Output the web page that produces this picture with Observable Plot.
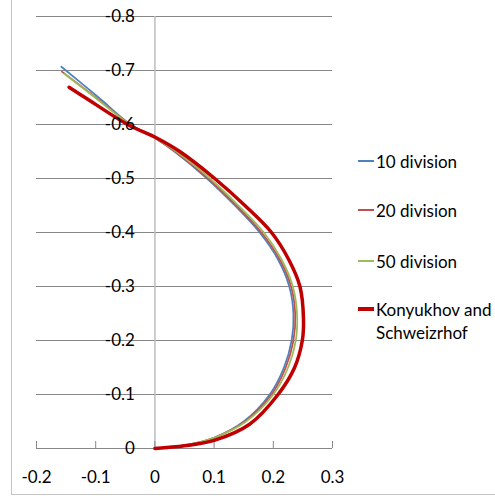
<!DOCTYPE html>
<html><head><meta charset="utf-8">
<script src="https://cdn.jsdelivr.net/npm/d3@7"></script>
<script src="https://cdn.jsdelivr.net/npm/@observablehq/plot@0.6"></script>
<style>
html,body{margin:0;padding:0;background:#fff;width:495px;height:498px;overflow:hidden;}
#wrap{position:relative;width:495px;height:498px;font-family:Lato,"Liberation Sans",sans-serif;color:#000;}
#wrap svg{position:absolute;left:0;top:0;background:transparent;}
#frame{position:absolute;left:11px;top:-5px;width:600px;height:500px;border:1px solid #c4c4c4;box-sizing:border-box;pointer-events:none;}
.lg{position:absolute;left:376px;font-size:17px;line-height:23px;white-space:nowrap;}
.sw{position:absolute;left:358px;width:16px;}
</style>
</head><body>
<div id="wrap"><div id="frame"></div></div>
<script>
// ---- data ----
const seriesNames = ["10 division", "20 division", "50 division", "Konyukhov and Schweizrhof"];
const seriesColors = ["#4F81BD", "#C0504D", "#9BBB59", "#C00000"];

const x10 = [0, 0.05, 0.1, 0.15, 0.194, 0.218, 0.231, 0.234, 0.227, 0.208, 0.177, 0.135, 0.088, 0.033, 0.0, -0.041, -0.095, -0.158];
const y10 = [0, -0.006, -0.02, -0.05, -0.1, -0.15, -0.2, -0.25, -0.3, -0.35, -0.4, -0.45, -0.5, -0.55, -0.575, -0.6, -0.65, -0.707];

const x20 = [0, 0.05, 0.1, 0.152, 0.197, 0.221, 0.234, 0.237, 0.230, 0.211, 0.180, 0.138, 0.090, 0.034, 0.0, -0.041, -0.1, -0.157];
const y20 = [0, -0.006, -0.02, -0.05, -0.1, -0.15, -0.2, -0.25, -0.3, -0.35, -0.4, -0.45, -0.5, -0.55, -0.575, -0.6, -0.65, -0.698];

const x50 = [0, 0.05, 0.1, 0.154, 0.2, 0.225, 0.238, 0.240, 0.233, 0.214, 0.184, 0.141, 0.093, 0.036, 0.0, -0.042, -0.101, -0.153];
const y50 = [0, -0.006, -0.02, -0.05, -0.1, -0.15, -0.2, -0.25, -0.3, -0.35, -0.4, -0.45, -0.5, -0.55, -0.575, -0.6, -0.65, -0.694];

const xKS = [0, 0.05, 0.1, 0.16, 0.208, 0.236, 0.249, 0.251, 0.245, 0.226, 0.197, 0.152, 0.101, 0.042, 0.003, -0.046, -0.118, -0.145];
const yKS = [0, -0.005, -0.015, -0.045, -0.1, -0.15, -0.2, -0.24, -0.3, -0.35, -0.4, -0.45, -0.5, -0.55, -0.575, -0.6, -0.65, -0.669];

const xTicks = [-0.2, -0.1, 0, 0.1, 0.2, 0.3];
const xTickLabels = ["-0.2", "-0.1", "0", "0.1", "0.2", "0.3"];
const yTicks = [0, -0.1, -0.2, -0.3, -0.4, -0.5, -0.6, -0.7, -0.8];
const yTickLabels = ["0", "-0.1", "-0.2", "-0.3", "-0.4", "-0.5", "-0.6", "-0.7", "-0.8"];

// ---- build table ----
const seriesXY = [[x10, y10], [x20, y20], [x50, y50], [xKS, yKS]];
const rows = [];
seriesXY.forEach(([xs, ys], i) => xs.forEach((x, j) => rows.push({series: seriesNames[i], x, y: ys[j]})));
const xLab = xTicks.map((v, i) => ({v, label: xTickLabels[i]}));
const yLab = yTicks.map((v, i) => ({v, label: yTickLabels[i]}));

const widths = [1.75, 1.75, 1.75, 3.5];
const font = "Lato, 'Liberation Sans', sans-serif";

const chart = Plot.plot({
  width: 495,
  height: 498,
  marginLeft: 36,
  marginRight: 163,
  marginTop: 16,
  marginBottom: 50,
  style: {background: "transparent", fontFamily: font},
  x: {domain: [-0.2, 0.3], axis: null},
  y: {domain: [0, -0.8], axis: null},
  marks: [
    Plot.ruleY(yTicks, {stroke: "#878787", strokeWidth: 1}),
    Plot.ruleX([0], {stroke: "#bdbdbd", strokeWidth: 1.5}),
    Plot.ruleX(xTicks, {x: d => d, y1: 0, y2: 0, insetTop: -7, stroke: "#878787"}),
    ...seriesNames.map((s, i) => Plot.line(rows.filter(r => r.series === s), {
      x: "x", y: "y", stroke: seriesColors[i], strokeWidth: widths[i], curve: "catmull-rom"
    })),
    Plot.text(yLab, {x: 0, y: "v", text: "label", dx: -20, textAnchor: "end", fontSize: 17, fill: "#000"}),
    Plot.text(xLab, {x: "v", y: 0, text: "label", dy: 29, fontSize: 17, fill: "#000"})
  ]
});
const wrap = document.getElementById("wrap");
wrap.insertBefore(chart, wrap.firstChild);

// ---- legend ----
const legendCenters = [161, 210, 261, 309];
seriesNames.forEach((s, i) => {
  const sw = document.createElement("div");
  sw.className = "sw";
  const h = widths[i] + 0.5;
  sw.style.top = (legendCenters[i] - h / 2) + "px";
  sw.style.height = h + "px";
  sw.style.background = seriesColors[i];
  wrap.appendChild(sw);
  const t = document.createElement("div");
  t.className = "lg";
  t.style.top = (legendCenters[i] - 11.5) + "px";
  if (i === 3) { t.innerHTML = "Konyukhov and<br>Schweizrhof"; } else { t.textContent = s; }
  wrap.appendChild(t);
});
</script>
</body></html>
